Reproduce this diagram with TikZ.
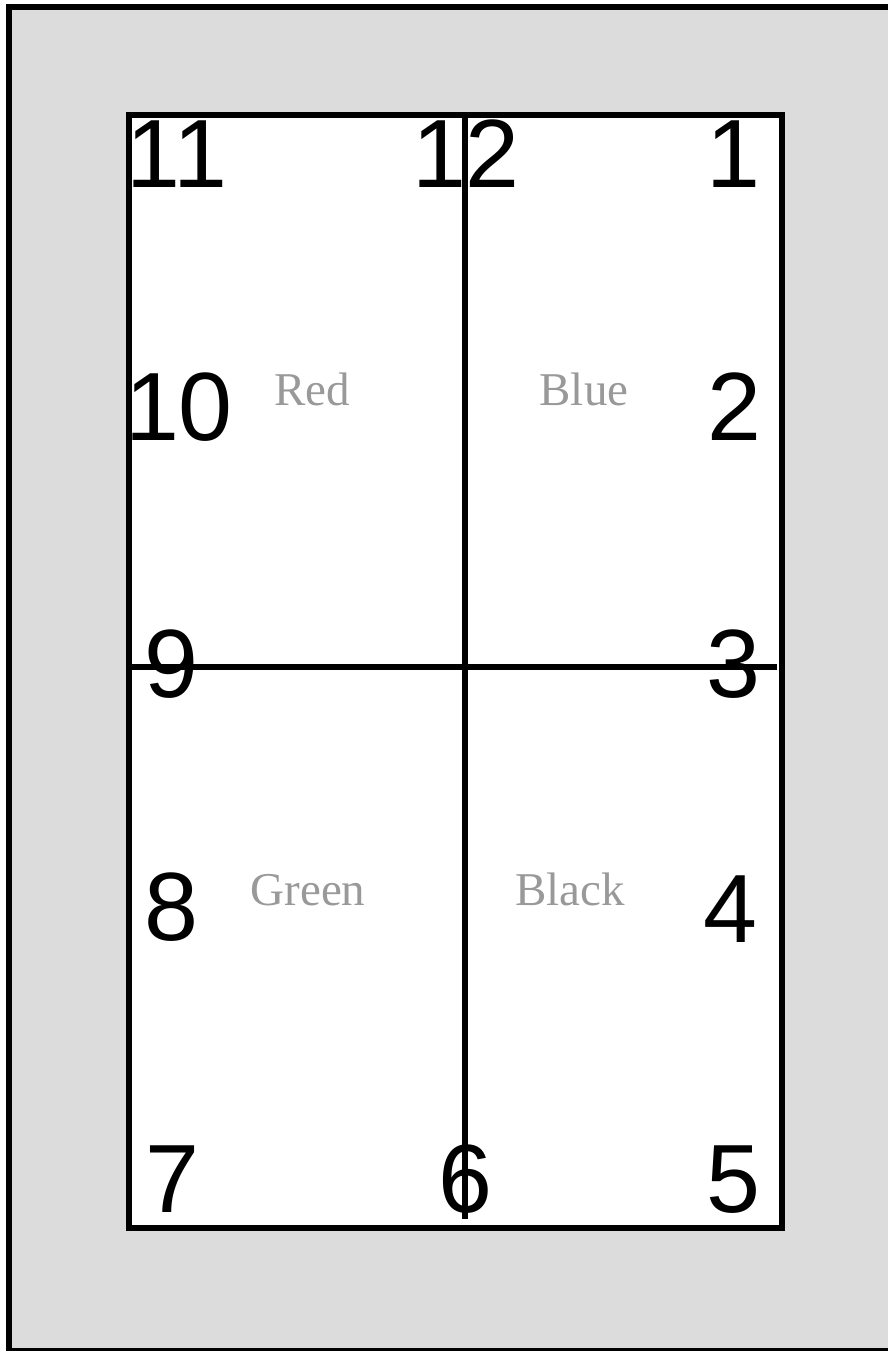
\documentclass[tikz,border=0pt]{standalone}
\usepackage{fontspec}
\newfontfamily\numfont{Liberation Sans}
\newfontfamily\lblfont{Liberation Serif}
\definecolor{bgcol}{RGB}{220,220,220}
\definecolor{lblcol}{RGB}{153,153,153}
\begin{document}
\begin{tikzpicture}[x=1pt,y=-1pt,line width=6pt,
  num/.style={font=\numfont\fontsize{97}{97}\selectfont,anchor=base,inner sep=0pt},
  lab/.style={font=\lblfont\fontsize{47}{47}\selectfont,text=lblcol,anchor=base,inner sep=0pt},
  divider/.style={line width=5.5pt}]
\useasboundingbox (0,0) rectangle (888,1351);
\begin{scope}
  \clip (0,0) rectangle (888,1351);
  \draw[fill=bgcol] (8.5,7) rectangle (900,1350.5);
\end{scope}
\draw[fill=white] (129,115) rectangle (781.5,1228);
\coordinate (vtop) at (465,115);
\coordinate (vbot) at (465,1219);
\coordinate (hl) at (130,667);
\coordinate (hr) at (777,667);
\draw[divider] (vtop) -- (vbot);
\draw[divider] (hl) -- (hr);
% numbers
\node[num] (n11) at (177,188) {11};
\node[num] (n12) at (466,188) {12};
\node[num] (n1) at (733,188) {1};
\node[num] (n10) at (179,440) {10};
\node[num] (n2) at (734,440) {2};
\node[num] (n9) at (171,697) {9};
\node[num] (n3) at (733,697) {3};
\node[num] (n8) at (171,940) {8};
\node[num] (n4) at (730,942) {4};
\node[num] (n7) at (172,1212) {7};
\node[num] (n6) at (465,1212) {6};
\node[num] (n5) at (733,1212) {5};
% labels
\node[lab] (red) at (312,405) {Red};
\node[lab] (blue) at (584,405) {Blue};
\node[lab] (green) at (308,905) {Green};
\node[lab] (black) at (570,905) {Black};
\end{tikzpicture}
\end{document}
